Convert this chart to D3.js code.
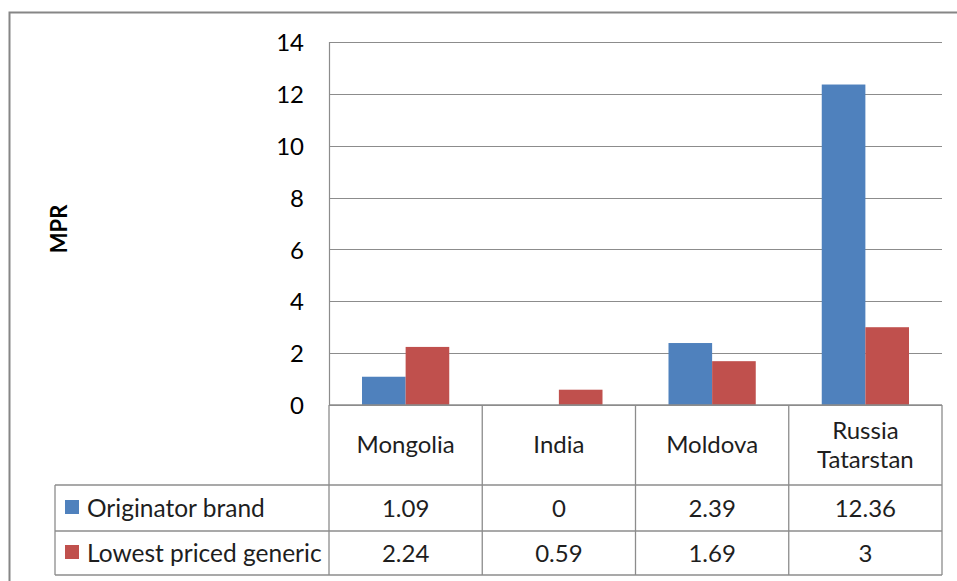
<!DOCTYPE html>
<html>
<head>
<meta charset="utf-8">
<script src="https://cdn.jsdelivr.net/npm/d3@7"></script>
<style>
  html, body { margin: 0; padding: 0; background: #fff; }
  svg { display: block; font-family: Lato, "Open Sans", "Liberation Sans", sans-serif; }
</style>
</head>
<body>
<svg id="chart" width="957" height="581"></svg>
<script>
// Median price ratio (MPR) by country
const categories = [["Mongolia"], ["India"], ["Moldova"], ["Russia", "Tatarstan"]];
const seriesNames = ["Originator brand", "Lowest priced generic"];
const originator = [1.09, 0, 2.39, 12.36];
const generic = [2.24, 0.59, 1.69, 3];
const valueLabels = [["1.09", "0", "2.39", "12.36"], ["2.24", "0.59", "1.69", "3"]];
const yTicks = [0, 2, 4, 6, 8, 10, 12, 14];
const colors = ["#4F81BD", "#C0504D"];

const series = [originator, generic];
const svg = d3.select("#chart");
const grid = "#8c8c8c";
const textColor = "#1e1e1e";

// outer chart frame
svg.append("rect").attr("x", 9.5).attr("y", 12.5).attr("width", 1000).attr("height", 1000)
  .attr("fill", "none").attr("stroke", "#868686").attr("stroke-width", 2);

const plot = { left: 329, right: 942, top: 42, bottom: 405 };
const x = d3.scaleBand().domain(d3.range(categories.length)).range([plot.left, plot.right]);
const y = d3.scaleLinear().domain([0, 14]).range([plot.bottom, plot.top]);
const groupPad = 33;
const xs = d3.scaleBand().domain(d3.range(series.length))
  .range([0, x.bandwidth() - 2 * groupPad]);

// gridlines
svg.append("g").selectAll("line").data(yTicks).join("line")
  .attr("x1", plot.left).attr("x2", plot.right)
  .attr("y1", d => Math.round(y(d)) + 0.5).attr("y2", d => Math.round(y(d)) + 0.5)
  .attr("stroke", grid).attr("stroke-width", 1.2);

// y-axis line
svg.append("line").attr("x1", plot.left + 0.5).attr("x2", plot.left + 0.5)
  .attr("y1", plot.top).attr("y2", plot.bottom).attr("stroke", grid).attr("stroke-width", 1.2);

// y tick labels
const yAxis = d3.axisLeft(y).tickValues(yTicks).tickSize(0).tickPadding(0);
const ya = svg.append("g").attr("transform", `translate(${plot.left - 25},0)`).call(yAxis);
ya.select(".domain").remove();
ya.selectAll("text").attr("font-size", 24).attr("font-family", "Lato, sans-serif")
  .attr("fill", "#000").attr("text-anchor", "end").attr("dy", "0.36em");

// axis title
svg.append("text").attr("transform", `translate(67,229) rotate(-90)`)
  .attr("text-anchor", "middle").attr("font-size", 22).attr("font-weight", "bold")
  .attr("fill", "#000").text("MPR");

// bars
series.forEach((vals, si) => {
  svg.append("g").selectAll("rect").data(vals).join("rect")
    .attr("x", (d, i) => x(i) + groupPad + xs(si))
    .attr("width", xs.bandwidth())
    .attr("y", d => y(d))
    .attr("height", d => y(0) - y(d))
    .attr("fill", colors[si]);
});

// data table
const rowTop = [plot.bottom, 485, 531, 575];
const tableLeft = 55;
const tbl = svg.append("g").attr("stroke", grid).attr("stroke-width", 1.3).attr("fill", "none");
tbl.append("line").attr("x1", plot.left).attr("x2", plot.right).attr("y1", rowTop[0]).attr("y2", rowTop[0]);
rowTop.slice(1).forEach(r => tbl.append("line").attr("x1", tableLeft).attr("x2", plot.right).attr("y1", r).attr("y2", r));
const vx = d3.range(categories.length + 1).map(i => i < categories.length ? x(i) : plot.right);
vx.forEach(v => tbl.append("line").attr("x1", v).attr("x2", v).attr("y1", rowTop[0]).attr("y2", rowTop[3]));
tbl.append("line").attr("x1", tableLeft).attr("x2", tableLeft).attr("y1", rowTop[1]).attr("y2", rowTop[3]);

// category labels (multi-line names stacked inside the header cell)
categories.forEach((lines, i) => {
  const cx = x(i) + x.bandwidth() / 2;
  const mid = (rowTop[0] + rowTop[1]) / 2;
  const lh = 29;
  lines.forEach((s, k) => {
    svg.append("text").attr("x", cx)
      .attr("y", mid + (k - (lines.length - 1) / 2) * lh + 8)
      .attr("text-anchor", "middle").attr("font-size", 24).attr("fill", textColor)
      .text(s);
  });
});

// series rows: legend keys, names and values
seriesNames.forEach((name, si) => {
  const mid = (rowTop[si + 1] + rowTop[si + 2]) / 2;
  svg.append("rect").attr("x", 65).attr("y", mid - 8).attr("width", 14).attr("height", 14).attr("fill", colors[si]);
  svg.append("text").attr("x", 87).attr("y", mid + 9).attr("font-size", 24.5).attr("fill", textColor).text(name);
  valueLabels[si].forEach((v, i) => {
    svg.append("text").attr("x", x(i) + x.bandwidth() / 2).attr("y", mid + 9)
      .attr("text-anchor", "middle").attr("font-size", 24).attr("fill", textColor).text(v);
  });
});
</script>
</body>
</html>
